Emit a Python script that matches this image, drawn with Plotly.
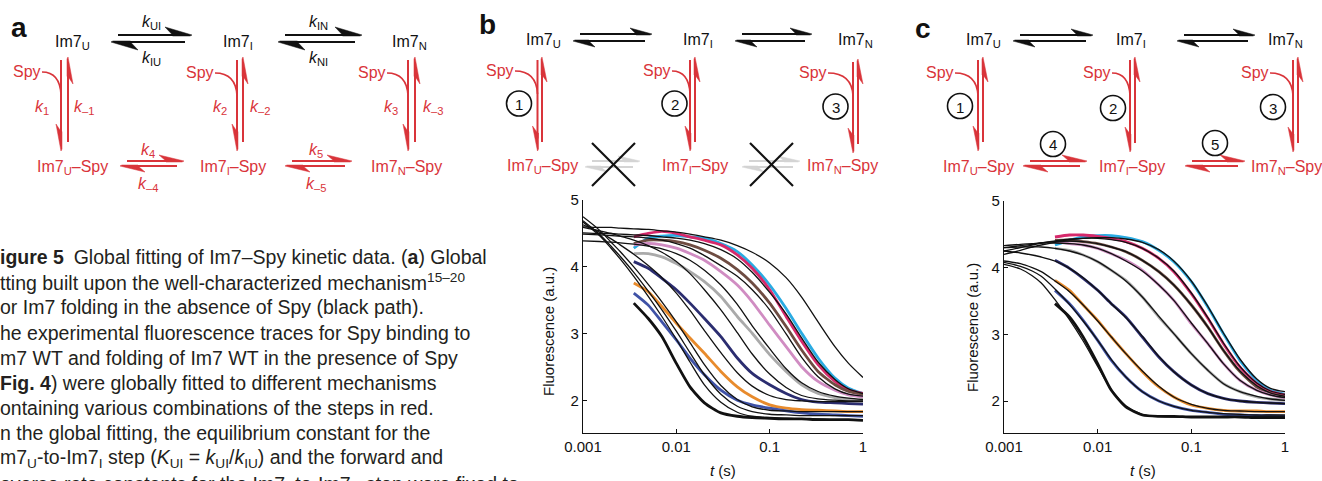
import math
import plotly.graph_objects as go

# ---------------- data ----------------
T_DATA = [0.0035, 0.005, 0.007, 0.01, 0.014, 0.02, 0.03, 0.045, 0.065, 0.1, 0.15, 0.22, 0.33, 0.5, 0.7, 1.0]
T_FIT = [0.001, 0.0015, 0.002, 0.0025, 0.0035, 0.005, 0.007, 0.01, 0.014, 0.02, 0.03, 0.045,
         0.065, 0.1, 0.15, 0.22, 0.33, 0.5, 0.7, 1.0]

SERIES = ["cyan", "crimson", "brown", "pink", "gray", "navy", "orange", "blue", "black"]
COLORS = {"cyan": "#2aabe2", "crimson": "#d6296b", "brown": "#6e4c42", "pink": "#d08cc2",
          "gray": "#aaaaaa", "navy": "#2b2d70", "orange": "#e88b2c", "blue": "#3f52a6", "black": "#111111"}

# panel b: experimental traces
b_cyan = [4.28, 4.43, 4.46, 4.47, 4.45, 4.43, 4.35, 4.23, 4.03, 3.73, 3.38, 3.01, 2.64, 2.34, 2.19, 2.11]
b_crimson = [4.45, 4.50, 4.53, 4.50, 4.45, 4.40, 4.33, 4.18, 3.98, 3.66, 3.26, 2.89, 2.54, 2.29, 2.16, 2.11]
b_brown = [4.35, 4.40, 4.40, 4.38, 4.33, 4.25, 4.13, 3.96, 3.76, 3.46, 3.11, 2.76, 2.44, 2.24, 2.14, 2.09]
b_pink = [4.33, 4.35, 4.33, 4.28, 4.20, 4.10, 3.93, 3.73, 3.48, 3.13, 2.81, 2.51, 2.29, 2.16, 2.09, 2.06]
b_gray = [4.20, 4.20, 4.15, 4.05, 3.93, 3.78, 3.56, 3.26, 3.01, 2.69, 2.44, 2.24, 2.11, 2.05, 2.02, 2.01]
b_navy = [4.08, 3.98, 3.83, 3.66, 3.46, 3.23, 2.96, 2.64, 2.41, 2.24, 2.11, 2.02, 1.98, 1.97, 1.96, 1.95]
b_orange = [3.76, 3.63, 3.41, 3.16, 2.94, 2.71, 2.44, 2.21, 2.06, 1.94, 1.89, 1.87, 1.86, 1.85, 1.84, 1.84]
b_blue = [3.61, 3.43, 3.18, 2.91, 2.64, 2.39, 2.16, 2.01, 1.94, 1.89, 1.85, 1.82, 1.80, 1.79, 1.78, 1.77]
b_black = [3.46, 3.23, 2.96, 2.56, 2.21, 1.97, 1.82, 1.77, 1.75, 1.74, 1.73, 1.73, 1.72, 1.72, 1.72, 1.71]

# panel b: fitted curves
bf_cyan = [4.60, 4.59, 4.59, 4.58, 4.57, 4.56, 4.54, 4.52, 4.49, 4.45, 4.40, 4.32, 4.22, 4.06, 3.84, 3.55, 3.18, 2.81, 2.56, 2.35]
bf_crimson = [4.51, 4.50, 4.50, 4.49, 4.48, 4.47, 4.45, 4.43, 4.40, 4.35, 4.26, 4.12, 3.92, 3.62, 3.30, 2.94, 2.58, 2.32, 2.18, 2.11]
bf_brown = [4.49, 4.48, 4.47, 4.46, 4.45, 4.43, 4.40, 4.35, 4.28, 4.17, 4.02, 3.86, 3.66, 3.36, 3.00, 2.65, 2.36, 2.18, 2.10, 2.07]
bf_pink = [4.39, 4.38, 4.37, 4.36, 4.34, 4.31, 4.27, 4.20, 4.10, 3.95, 3.73, 3.44, 3.12, 2.78, 2.48, 2.27, 2.14, 2.07, 2.04, 2.02]
bf_gray = [4.59, 4.54, 4.50, 4.46, 4.40, 4.32, 4.22, 4.08, 3.90, 3.66, 3.36, 3.02, 2.70, 2.40, 2.20, 2.08, 2.03, 2.01, 2.00, 2.00]
bf_navy = [4.63, 4.52, 4.42, 4.33, 4.19, 4.02, 3.84, 3.61, 3.35, 3.05, 2.72, 2.42, 2.22, 2.08, 2.02, 2.00, 1.99, 1.99, 1.99, 1.99]
bf_orange = [4.75, 4.55, 4.37, 4.23, 4.00, 3.74, 3.48, 3.18, 2.87, 2.54, 2.23, 2.02, 1.91, 1.86, 1.85, 1.84, 1.84, 1.84, 1.84, 1.84]
bf_blue = [4.69, 4.49, 4.31, 4.16, 3.92, 3.64, 3.36, 3.04, 2.72, 2.39, 2.10, 1.92, 1.84, 1.80, 1.79, 1.78, 1.78, 1.78, 1.78, 1.78]
bf_black = [4.67, 4.47, 4.28, 4.12, 3.86, 3.56, 3.26, 2.92, 2.58, 2.24, 1.98, 1.83, 1.77, 1.75, 1.74, 1.73, 1.73, 1.72, 1.72, 1.72]

# panel c: experimental traces
c_cyan = [4.34, 4.41, 4.46, 4.48, 4.48, 4.45, 4.39, 4.26, 4.09, 3.79, 3.41, 3.01, 2.61, 2.31, 2.16, 2.10]
c_crimson = [4.46, 4.49, 4.49, 4.47, 4.44, 4.39, 4.29, 4.14, 3.94, 3.61, 3.24, 2.86, 2.51, 2.26, 2.14, 2.09]
c_brown = [4.41, 4.41, 4.39, 4.36, 4.31, 4.24, 4.11, 3.94, 3.74, 3.44, 3.11, 2.76, 2.44, 2.21, 2.11, 2.06]
c_pink = [4.39, 4.36, 4.34, 4.29, 4.21, 4.11, 3.96, 3.74, 3.51, 3.16, 2.86, 2.56, 2.31, 2.16, 2.09, 2.04]
c_gray = [4.29, 4.26, 4.19, 4.09, 3.96, 3.81, 3.56, 3.26, 3.01, 2.71, 2.46, 2.26, 2.14, 2.06, 2.03, 2.01]
c_navy = [4.11, 3.99, 3.84, 3.66, 3.46, 3.26, 2.96, 2.66, 2.44, 2.24, 2.11, 2.04, 2.00, 1.98, 1.97, 1.96]
c_orange = [3.81, 3.66, 3.44, 3.21, 2.96, 2.71, 2.44, 2.21, 2.06, 1.94, 1.89, 1.86, 1.85, 1.85, 1.84, 1.84]
c_blue = [3.66, 3.46, 3.21, 2.91, 2.61, 2.36, 2.14, 2.00, 1.92, 1.86, 1.83, 1.80, 1.79, 1.78, 1.78, 1.77]
c_black = [3.46, 3.26, 2.96, 2.56, 2.16, 1.91, 1.79, 1.77, 1.77, 1.76, 1.76, 1.76, 1.76, 1.75, 1.75, 1.75]

# panel c: fitted curves
cf_cyan = [4.20, 4.26, 4.31, 4.34, 4.38, 4.42, 4.44, 4.45, 4.45, 4.43, 4.38, 4.27, 4.10, 3.80, 3.42, 3.02, 2.63, 2.33, 2.19, 2.14]
cf_crimson = [4.25, 4.30, 4.34, 4.37, 4.40, 4.43, 4.44, 4.44, 4.42, 4.38, 4.29, 4.14, 3.95, 3.62, 3.25, 2.87, 2.52, 2.27, 2.15, 2.10]
cf_brown = [4.30, 4.33, 4.35, 4.37, 4.39, 4.40, 4.39, 4.36, 4.31, 4.24, 4.11, 3.94, 3.74, 3.44, 3.11, 2.76, 2.45, 2.23, 2.12, 2.07]
cf_pink = [4.33, 4.35, 4.36, 4.37, 4.37, 4.36, 4.34, 4.29, 4.21, 4.10, 3.95, 3.74, 3.51, 3.17, 2.86, 2.56, 2.31, 2.16, 2.09, 2.05]
cf_gray = [4.30, 4.31, 4.31, 4.31, 4.29, 4.25, 4.19, 4.09, 3.96, 3.80, 3.56, 3.27, 3.01, 2.71, 2.46, 2.26, 2.14, 2.07, 2.03, 2.01]
cf_navy = [4.25, 4.22, 4.19, 4.16, 4.10, 3.99, 3.85, 3.66, 3.46, 3.25, 2.97, 2.67, 2.44, 2.24, 2.11, 2.04, 2.00, 1.98, 1.97, 1.96]
cf_orange = [4.10, 4.06, 4.00, 3.94, 3.80, 3.64, 3.44, 3.20, 2.96, 2.71, 2.45, 2.22, 2.06, 1.95, 1.89, 1.86, 1.85, 1.84, 1.84, 1.84]
cf_blue = [4.08, 4.02, 3.95, 3.87, 3.68, 3.45, 3.20, 2.91, 2.62, 2.36, 2.14, 2.00, 1.92, 1.86, 1.83, 1.81, 1.80, 1.79, 1.79, 1.79]
cf_black = [4.05, 3.98, 3.88, 3.77, 3.52, 3.22, 2.90, 2.52, 2.17, 1.93, 1.80, 1.77, 1.76, 1.76, 1.76, 1.76, 1.76, 1.76, 1.76, 1.76]

B_DATA = dict(cyan=b_cyan, crimson=b_crimson, brown=b_brown, pink=b_pink, gray=b_gray,
              navy=b_navy, orange=b_orange, blue=b_blue, black=b_black)
B_FIT = dict(cyan=bf_cyan, crimson=bf_crimson, brown=bf_brown, pink=bf_pink, gray=bf_gray,
             navy=bf_navy, orange=bf_orange, blue=bf_blue, black=bf_black)
C_DATA = dict(cyan=c_cyan, crimson=c_crimson, brown=c_brown, pink=c_pink, gray=c_gray,
              navy=c_navy, orange=c_orange, blue=c_blue, black=c_black)
C_FIT = dict(cyan=cf_cyan, crimson=cf_crimson, brown=cf_brown, pink=cf_pink, gray=cf_gray,
             navy=cf_navy, orange=cf_orange, blue=cf_blue, black=cf_black)

X_TICKS = [0.001, 0.01, 0.1, 1]
X_TICKTEXT = ["0.001", "0.01", "0.1", "1"]
Y_TICKS = [2, 3, 4, 5]

# ---------------- figure ----------------
W, H = 1322, 481
FONT = "Liberation Sans, Arial, sans-serif"
RED = "#d9343a"
BLACK = "#111111"

fig = go.Figure()

for xa, ya, data, fits in (("x", "y", B_DATA, B_FIT), ("x2", "y2", C_DATA, C_FIT)):
    for s in SERIES:
        fig.add_trace(go.Scatter(x=T_DATA, y=data[s], mode="lines", xaxis=xa, yaxis=ya,
                                 line=dict(color=COLORS[s], width=2.8, shape="spline", smoothing=0.6),
                                 hoverinfo="skip", showlegend=False))
    for s in SERIES:
        fig.add_trace(go.Scatter(x=T_FIT, y=fits[s], mode="lines", xaxis=xa, yaxis=ya,
                                 line=dict(color=BLACK, width=1.3, shape="spline", smoothing=0.8),
                                 hoverinfo="skip", showlegend=False))


def X(px):
    return px / W


def Y(py):
    return 1 - py / H


shapes = []
annotations = []


def seg(x0, y0, x1, y1, color, width=2.0):
    shapes.append(dict(type="line", xref="paper", yref="paper", x0=X(x0), y0=Y(y0), x1=X(x1), y1=Y(y1),
                       line=dict(color=color, width=width)))


def poly(pts, color):
    path = "M " + " L ".join(f"{X(a):.5f},{Y(b):.5f}" for a, b in pts) + " Z"
    shapes.append(dict(type="path", xref="paper", yref="paper", path=path, fillcolor=color,
                       line=dict(color=color, width=0.5)))


def harpoon(x0, y0, x1, y1, side, color, L=22, w=7, width=2.0):
    dx, dy = x1 - x0, y1 - y0
    n = math.hypot(dx, dy)
    ux, uy = dx / n, dy / n
    nx, ny = -uy * side, ux * side
    seg(x0, y0, x1 - ux * L * 0.5, y1 - uy * L * 0.5, color, width)
    tip = (x1, y1)
    barb = (x1 - ux * L + nx * w, y1 - uy * L + ny * w)
    inner = (x1 - ux * L * 0.72, y1 - uy * L * 0.72)
    inner2 = (inner[0] - nx * 1.0, inner[1] - ny * 1.0)
    tip2 = (x1 - ux * 2 - nx * 1.0, y1 - uy * 2 - ny * 1.0)
    poly([tip, barb, inner, inner2, tip2], color)


def curve(x0, y0, cx, cy, x1, y1, color, width=1.6):
    path = f"M {X(x0):.5f},{Y(y0):.5f} Q {X(cx):.5f},{Y(cy):.5f} {X(x1):.5f},{Y(y1):.5f}"
    shapes.append(dict(type="path", xref="paper", yref="paper", path=path,
                       line=dict(color=color, width=width)))


def circ(cx, cy, r=12.5):
    shapes.append(dict(type="circle", xref="paper", yref="paper", x0=X(cx - r), x1=X(cx + r),
                       y0=Y(cy + r), y1=Y(cy - r), line=dict(color=BLACK, width=1.6)))


def text(s, x, y, color=BLACK, size=16, xanchor="center", bold=False, angle=0, family=FONT):
    if bold:
        s = f"<b>{s}</b>"
    annotations.append(dict(text=s, x=X(x), y=Y(y), xref="paper", yref="paper", showarrow=False,
                            xanchor=xanchor, yanchor="middle", textangle=angle,
                            font=dict(color=color, size=size, family=family)))


def vpair(xd, xu, top=60, bot=151, L=27, w=5):
    harpoon(xd, top, xd, bot, 1, RED, L=L, w=w)
    harpoon(xu, bot - 9, xu, top - 3, 1, RED, L=L, w=w)


def hpair(xl, xr, yt, yb, color, L=22, w=7, shift=7):
    harpoon(xl + shift, yt, xr, yt, -1, color, L=L, w=w)
    harpoon(xr - shift, yb, xl, yb, -1, color, L=L, w=w)


def spy(lx, ly, xd):
    text("Spy", lx, ly, RED, 16)
    curve(lx + 15, ly + 1, xd - 1, ly + 1, xd, ly + 24, RED)


# ---------------- panel a ----------------
text("a", 19, 27, BLACK, 28, bold=True)
text("Im7<sub>U</sub>", 72, 42)
text("Im7<sub>I</sub>", 238, 42)
text("Im7<sub>N</sub>", 410, 42)
hpair(111, 192, 35, 42, BLACK, L=27, w=8)
hpair(278, 362, 35, 42, BLACK, L=27, w=8)
text("<i>k</i><sub>UI</sub>", 151, 22)
text("<i>k</i><sub>IU</sub>", 151, 58)
text("<i>k</i><sub>IN</sub>", 318, 22)
text("<i>k</i><sub>NI</sub>", 318, 58)
vpair(61, 68)
vpair(237, 243)
vpair(408, 415)
spy(27, 71, 61)
spy(200, 72, 237)
spy(372, 72, 408)
text("<i>k</i><sub>1</sub>", 42, 107, RED)
text("<i>k</i><sub>–1</sub>", 84, 107, RED)
text("<i>k</i><sub>2</sub>", 220, 107, RED)
text("<i>k</i><sub>–2</sub>", 260, 107, RED)
text("<i>k</i><sub>3</sub>", 391, 107, RED)
text("<i>k</i><sub>–3</sub>", 433, 107, RED)
text("Im7<sub>U</sub>–Spy", 72, 167, RED)
text("Im7<sub>I</sub>–Spy", 233, 167, RED)
text("Im7<sub>N</sub>–Spy", 406, 167, RED)
hpair(120, 184, 161, 166, RED, L=25, w=6)
hpair(285, 352, 161, 166, RED, L=25, w=6)
text("<i>k</i><sub>4</sub>", 148, 150, RED)
text("<i>k</i><sub>–4</sub>", 148, 184, RED)
text("<i>k</i><sub>5</sub>", 316, 150, RED)
text("<i>k</i><sub>–5</sub>", 316, 184, RED)

# ---------------- panel b ----------------
text("b", 487, 25, BLACK, 28, bold=True)
text("Im7<sub>U</sub>", 543, 41)
text("Im7<sub>I</sub>", 698, 41)
text("Im7<sub>N</sub>", 855, 41)
hpair(573, 652, 34, 41, BLACK, L=22, w=6)
hpair(735, 812, 34, 41, BLACK, L=22, w=6)
vpair(537.5, 542, top=60, bot=151, L=25, w=5)
vpair(690, 695, top=60, bot=151, L=25, w=5)
vpair(853, 858, top=62, bot=153, L=25, w=5)
spy(500, 70, 537.5)
spy(657, 70, 690)
spy(813, 72, 853)
circ(519, 103.5)
circ(674.5, 103.5)
circ(835.5, 106.5)
text("1", 519, 104, BLACK, 15)
text("2", 674.5, 104, BLACK, 15)
text("3", 835.5, 107, BLACK, 15)
text("Im7<sub>U</sub>–Spy", 542, 166, RED)
text("Im7<sub>I</sub>–Spy", 695, 166, RED)
text("Im7<sub>N</sub>–Spy", 842, 166, RED)
hpair(585, 640, 161, 167, "#d4d4d4", L=22, w=5)
hpair(742, 800, 161, 167, "#d4d4d4", L=22, w=5)
seg(592, 143, 635, 186, BLACK, 2.2)
seg(592, 186, 635, 143, BLACK, 2.2)
seg(750, 143, 793, 186, BLACK, 2.2)
seg(750, 186, 793, 143, BLACK, 2.2)

# ---------------- panel c ----------------
text("c", 923, 28, BLACK, 28, bold=True)
text("Im7<sub>U</sub>", 983, 41)
text("Im7<sub>I</sub>", 1131, 41)
text("Im7<sub>N</sub>", 1285, 41)
hpair(1013, 1093, 35, 41, BLACK, L=22, w=6)
hpair(1177, 1255, 35, 41, BLACK, L=22, w=6)
vpair(978, 983, top=60, bot=151, L=25, w=5)
vpair(1130, 1135, top=60, bot=152, L=25, w=5)
vpair(1293, 1298, top=60, bot=152, L=25, w=5)
spy(940, 72, 978)
spy(1097, 72, 1130)
spy(1255, 72, 1293)
circ(960, 106)
circ(1113, 108)
circ(1273, 107)
circ(1053, 144)
circ(1215, 143)
text("1", 960, 107, BLACK, 15)
text("2", 1113, 109, BLACK, 15)
text("3", 1273, 108, BLACK, 15)
text("4", 1053, 145, BLACK, 15)
text("5", 1215, 144, BLACK, 15)
text("Im7<sub>U</sub>–Spy", 978, 167, RED)
text("Im7<sub>I</sub>–Spy", 1132, 167, RED)
text("Im7<sub>N</sub>–Spy", 1286, 167, RED)
hpair(1023, 1087, 161, 166, RED, L=25, w=6)
hpair(1185, 1245, 161, 166, RED, L=25, w=6)

# ---------------- axis titles ----------------
text("Fluorescence (a.u.)", 548, 332, BLACK, 15, angle=-90)
text("Fluorescence (a.u.)", 972, 328, BLACK, 15, angle=-90)
text("<i>t</i> (s)", 723, 470, BLACK, 15)
text("<i>t</i> (s)", 1143, 470, BLACK, 15)

# ---------------- caption ----------------
CAP = "#231f20"
caption_lines = [
    "<b>igure 5</b>\u2002Global fitting of Im7–Spy kinetic data. (<b>a</b>) Global",
    "tting built upon the well-characterized mechanism<sup>15–20</sup>",
    "or Im7 folding in the absence of Spy (black path).",
    "he experimental fluorescence traces for Spy binding to",
    "m7 WT and folding of Im7 WT in the presence of Spy",
    "<b>Fig. 4</b>) were globally fitted to different mechanisms",
    "ontaining various combinations of the steps in red.",
    "n the global fitting, the equilibrium constant for the",
    "m7<sub>U</sub>-to-Im7<sub>I</sub> step (<i>K</i><sub>UI</sub> = <i>k</i><sub>UI</sub>/<i>k</i><sub>IU</sub>) and the forward and",
    "everse rate constants for the Im7<sub>I</sub>-to-Im7<sub>N</sub> step were fixed to",
]
cap_y = [257, 282, 307, 333, 358, 383, 408, 433, 458, 485]
for s, yy in zip(caption_lines, cap_y):
    text(s, -2, yy, CAP, 19.5, xanchor="left")

axis_common = dict(showgrid=False, zeroline=False, showline=True, linecolor=BLACK, linewidth=1.3,
                   ticks="inside", ticklen=4, tickwidth=1.2, tickcolor=BLACK, automargin=False,
                   tickfont=dict(family=FONT, size=15, color=BLACK))

fig.update_layout(
    width=W, height=H,
    margin=dict(l=0, r=0, t=0, b=0, pad=0, autoexpand=False),
    paper_bgcolor="white", plot_bgcolor="white",
    showlegend=False,
    xaxis=dict(domain=[583 / W, 863 / W], type="log", range=[-3, 0], tickvals=X_TICKS,
               ticktext=X_TICKTEXT, anchor="y", **axis_common),
    yaxis=dict(domain=[1 - 433 / H, 1 - 200 / H], range=[1.52, 5], tickvals=Y_TICKS, anchor="x",
               **axis_common),
    xaxis2=dict(domain=[1004 / W, 1285 / W], type="log", range=[-3, 0], tickvals=X_TICKS,
                ticktext=X_TICKTEXT, anchor="y2", **axis_common),
    yaxis2=dict(domain=[1 - 433 / H, 1 - 201 / H], range=[1.52, 5], tickvals=Y_TICKS, anchor="x2",
                **axis_common),
    shapes=shapes,
    annotations=annotations,
)

fig.write_html("out.html", config={"displayModeBar": False},
               post_script="document.body.style.margin='0';document.body.style.overflow='hidden';")
